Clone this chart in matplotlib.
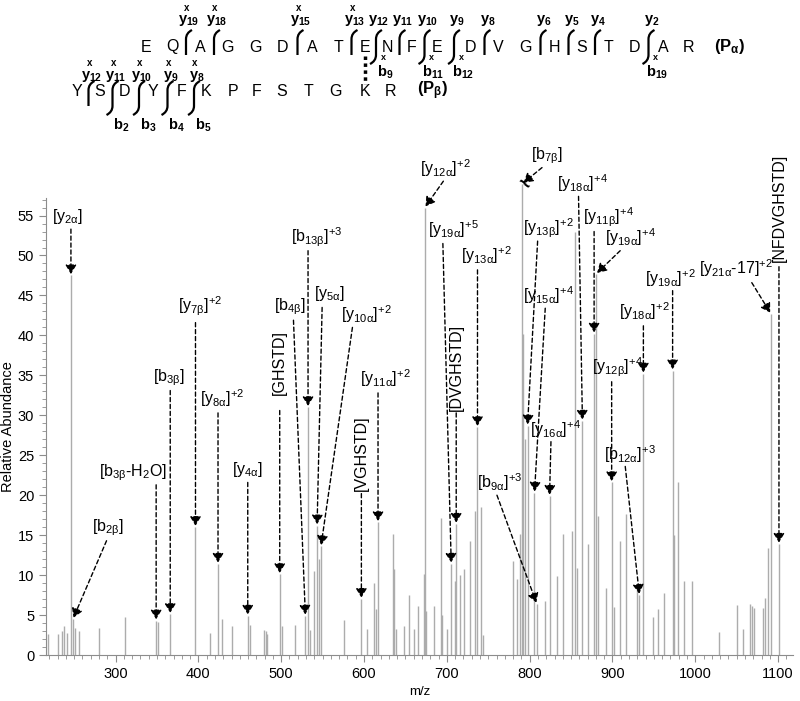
import numpy as np
import matplotlib
matplotlib.use("Agg")
import matplotlib.pyplot as plt
from matplotlib.path import Path
from matplotlib.patches import PathPatch
from matplotlib.ticker import MultipleLocator

plt.rcParams['font.family'] = ['Liberation Sans', 'DejaVu Sans']
plt.rcParams['mathtext.fontset'] = 'custom'
plt.rcParams['mathtext.rm'] = 'Liberation Sans'
plt.rcParams['mathtext.it'] = 'Liberation Sans:italic'
plt.rcParams['mathtext.bf'] = 'Liberation Sans:bold'
plt.rcParams['mathtext.default'] = 'regular'

# spectrum peaks (m/z, relative abundance)
mz = [218, 231, 235, 237.6, 241.7, 246.1, 248.5, 251.5, 255.8, 280, 311, 349, 351.5,
      366, 396.5, 414, 423.7, 428.7, 440.8, 459.6, 462.8, 479.7, 481.8, 483, 498.2,
      501.4, 517, 529.2, 532.4, 535, 539.2, 543.3, 545.2, 548, 575.4, 596.8, 603.6,
      611.6, 614.8, 616.9, 635, 636.5, 639, 647.8, 654.6, 659.8, 664.6, 671.9, 673.3,
      675, 684.8, 692.9, 694, 700, 705.3, 709.3, 711.3, 715.3, 721, 728.2, 734.3, 737,
      741.5, 744, 779.7, 785, 788.5, 791.3, 792.5, 794.6, 797.4, 805.8, 808.6, 818,
      824, 832.7, 840.7, 850.8, 854.9, 857, 863.7, 870.8, 877.8, 880.2, 883, 892, 899,
      902, 909.2, 916.4, 929.3, 932.5, 937.3, 949, 955, 962, 972.6, 974, 979.5, 986.4,
      995.6, 1028.6, 1050, 1057, 1066, 1068, 1070.8, 1082, 1084, 1087.2, 1091.3, 1101]
abund = [2.6, 2.6, 3.0, 3.6, 2.7, 47.5, 4.5, 3.4, 3.0, 3.4, 4.8, 4.3, 4.1,
         5.1, 16.0, 2.7, 11.4, 4.5, 3.6, 4.9, 3.7, 3.1, 3.0, 2.6, 10.1,
         3.6, 3.7, 4.9, 31.0, 3.1, 10.5, 16.2, 12.0, 13.6, 4.4, 7.0, 3.3,
         9.0, 5.8, 16.6, 15.2, 10.8, 3.2, 3.6, 7.5, 3.3, 6.1, 10.2, 56.0,
         5.5, 6.1, 17.2, 5.0, 3.2, 11.4, 9.3, 16.4, 10.0, 10.8, 14.3, 18.0, 28.5,
         18.5, 2.5, 11.8, 9.5, 15.1, 59.0, 40.2, 27.0, 28.7, 20.3, 6.4, 6.7,
         19.9, 9.9, 15.1, 15.5, 52.9, 10.9, 29.3, 13.9, 40.2, 47.7, 17.4, 8.4, 21.6,
         6.0, 14.3, 17.6, 8.9, 7.5, 35.2, 4.8, 5.7, 7.7, 35.6, 15.0, 21.6, 9.3,
         9.3, 2.9, 6.3, 3.2, 6.4, 6.1, 5.9, 5.9, 7.1, 13.4, 42.7, 13.9]

# annotations: label, text pos (m/z, abund), arrow start (m/z, abund), target peak m/z, rotation
ann = [
    (r'[y$_{2\alpha}$]', (242.1, 54.9), (246.1, 53.3), 246.1, 0),
    (r'[b$_{2\beta}$]', (290.3, 15.9), (289.1, 14.3), 248.5, 0),
    (r'[b$_{3\beta}$-H$_2$O]', (321.7, 22.8), (349.0, 21.3), 349.0, 0),
    (r'[b$_{3\beta}$]', (364.0, 34.7), (366.0, 33.1), 366.0, 0),
    (r'[y$_{7\beta}$]$^{+2}$', (402.6, 43.6), (396.5, 41.6), 396.5, 0),
    (r'[y$_{8\alpha}$]$^{+2}$', (429.1, 32.1), (423.7, 30.3), 423.7, 0),
    (r'[y$_{4\alpha}$]', (459.9, 23.2), (459.6, 21.6), 459.6, 0),
    ('[GHSTD]', (498.2, 36.6), (498.2, 30.6), 498.2, 90),
    (r'[b$_{4\beta}$]', (511.2, 43.6), (514.8, 41.9), 529.2, 0),
    (r'[b$_{13\beta}$]$^{+3}$', (542.5, 52.3), (532.4, 50.6), 532.4, 0),
    (r'[y$_{5\alpha}$]', (558.2, 45.2), (549.4, 43.5), 543.3, 0),
    (r'[y$_{10\alpha}$]$^{+2}$', (602.9, 42.7), (586.0, 41.0), 548.0, 0),
    (r'[y$_{11\alpha}$]$^{+2}$', (625.8, 34.7), (616.9, 32.8), 616.9, 0),
    ('[VGHSTD]', (596.8, 25.3), (596.8, 20.2), 596.8, 90),
    (r'[y$_{12\alpha}$]$^{+2}$', (698.2, 60.9), (695.8, 59.3), 673.3, 0),
    (r'[y$_{19\alpha}$]$^{+5}$', (707.8, 53.3), (695.2, 51.5), 705.3, 0),
    ('[DVGHSTD]', (711.3, 36.0), (711.3, 30.3), 711.3, 90),
    (r'[y$_{13\alpha}$]$^{+2}$', (747.6, 50.0), (737.0, 48.2), 737.0, 0),
    (r'[b$_{7\beta}$]', (821.3, 62.5), (814.9, 61.0), 791.3, 0),
    (r'[y$_{13\beta}$]$^{+2}$', (822.5, 53.4), (809.6, 51.8), 797.4, 0),
    (r'[y$_{15\alpha}$]$^{+4}$', (822.5, 45.0), (818.8, 43.4), 805.8, 0),
    (r'[y$_{16\alpha}$]$^{+4}$', (830.9, 28.3), (825.7, 26.7), 824.0, 0),
    (r'[b$_{9\alpha}$]$^{+3}$', (763.3, 21.6), (760.5, 20.0), 808.6, 0),
    (r'[y$_{18\alpha}$]$^{+4}$', (863.5, 59.1), (859.0, 57.4), 863.7, 0),
    (r'[y$_{11\beta}$]$^{+4}$', (894.9, 54.8), (877.8, 53.0), 877.8, 0),
    (r'[y$_{19\alpha}$]$^{+4}$', (921.4, 52.3), (909.3, 50.6), 880.2, 0),
    (r'[y$_{12\beta}$]$^{+4}$', (905.7, 36.0), (899.0, 34.2), 899.0, 0),
    (r'[y$_{18\alpha}$]$^{+2}$', (938.3, 43.0), (937.3, 41.2), 937.3, 0),
    (r'[y$_{19\alpha}$]$^{+2}$', (969.7, 47.2), (972.6, 45.6), 972.6, 0),
    (r'[y$_{21\alpha}$-17]$^{+2}$', (1049.0, 48.4), (1068.2, 46.6), 1091.3, 0),
    ('[NFDVGHSTD]', (1101.0, 56.0), (1101.0, 48.6), 1101.0, 90),
    (r'[b$_{12\alpha}$]$^{+3}$', (921.4, 25.2), (915.4, 23.6), 932.5, 0),
]

# peptide sequences
seq_a = "EQAGGDATENFEDVGHSTDAR"
seq_b = "YSDYFKPFSTGKR"
x_a = [146, 172, 200, 228, 256, 283, 312, 338, 365, 387, 412, 437, 471, 498, 526,
       555, 582, 608, 634, 663, 688]
x_b = [77, 100, 125, 153, 182, 206, 233, 257, 282, 308, 335, 365, 390]
y_ions_a = [19, 18, 15, 13, 12, 11, 10, 9, 8, 6, 5, 4, 2]
y_cross_a = [19, 18, 15, 13]
b_ions_a = [9, 11, 12, 19]
y_ions_b = [12, 11, 10, 9, 8]
b_ions_b = [2, 3, 4, 5]

fig = plt.figure(figsize=(8, 7.01), dpi=100)
ax = fig.add_axes([0.0575, 0.0656, 0.9338, 0.652])
ax.set_facecolor('none')

lines = ax.vlines(mz, 0, abund, colors='#acacac', lw=1.0)
lines.set_clip_on(False)

peak_of = dict(zip(mz, abund))
arrow_kw = dict(arrowstyle='-|>,head_length=0.55,head_width=0.33', color='black', lw=1.0,
                linestyle=(0, (3, 2)), shrinkA=0, shrinkB=1, mutation_scale=10)
for lab, tpos, spos, pk, rot in ann:
    ax.text(tpos[0], tpos[1], lab, fontsize=11.5, ha='center', va='center', rotation=rot)
    ax.annotate('', xy=(pk, peak_of[pk]), xytext=spos, arrowprops=arrow_kw,
                annotation_clip=False)
ax.text(791.3, 58.8, '~', fontsize=16, fontweight='bold', ha='center', va='center',
        rotation=-35)

ax.set_xlim(216, 1118)
ax.set_ylim(0, 57.2)
ax.set_xticks(range(300, 1101, 100))
ax.set_yticks(range(0, 56, 5))
ax.xaxis.set_minor_locator(MultipleLocator(10))
ax.yaxis.set_minor_locator(MultipleLocator(1))
for s in ['top', 'right']:
    ax.spines[s].set_visible(False)
for s in ['left', 'bottom']:
    ax.spines[s].set_color('#8c8c8c')
ax.tick_params(which='major', length=5, color='#8c8c8c', labelsize=10.5)
ax.tick_params(which='minor', length=3, color='#8c8c8c')
ax.set_xlabel('m/z', fontsize=9.5, labelpad=4)
ax.set_ylabel('Relative Abundance', fontsize=10.5, labelpad=2)

# sequence header drawn in pixel space
hdr = fig.add_axes([0, 0, 1, 1], zorder=-1)
hdr.set_xlim(0, 800)
hdr.set_ylim(701, 0)
hdr.axis('off')


def cleave(xb, ytop, ybot, top, bottom):
    verts, codes = [], []
    if top:
        verts += [(xb + 6, ytop - 9), (xb, ytop - 6), (xb, ytop)]
        codes += [Path.MOVETO, Path.CURVE3, Path.CURVE3]
    else:
        verts += [(xb, ytop)]
        codes += [Path.MOVETO]
    verts += [(xb, ybot)]
    codes += [Path.LINETO]
    if bottom:
        verts += [(xb, ybot + 6), (xb - 6, ybot + 9)]
        codes += [Path.CURVE3, Path.CURVE3]
    hdr.add_patch(PathPatch(Path(verts, codes), fill=False, lw=1.6, color='black'))


def draw_peptide(seq, xs, yrow, yions, ycross, bions, bcross, ytop, ybot, ylab_y, blab_y, name, namex):
    n = len(seq)
    for c, x in zip(seq, xs):
        hdr.text(x, yrow, c, fontsize=11.5, ha='center', va='center')
    hdr.text(namex, yrow, name, fontsize=12, ha='center', va='center', fontweight='bold')
    cuts = set(n - k for k in yions) | set(bions)
    for k in sorted(cuts):
        xb = (xs[k - 1] + xs[k]) / 2
        has_y = (n - k) in yions
        has_b = k in bions
        cleave(xb, ytop, ybot, has_y, has_b)
        if has_y:
            hdr.text(xb + 3, ylab_y, r'$\mathbf{y_{%d}}$' % (n - k), fontsize=10.5,
                     ha='center', va='center')
            if (n - k) in ycross:
                hdr.text(xb + 1, ylab_y - 13, 'x', fontsize=7, fontweight='bold',
                         ha='center', va='center')
        if has_b:
            hdr.text(xb + 9, blab_y, r'$\mathbf{b_{%d}}$' % k, fontsize=10.5,
                     ha='center', va='center')
            if bcross:
                hdr.text(xb + 7, blab_y - 14, 'x', fontsize=6.5, fontweight='bold',
                         ha='center', va='center')


draw_peptide(seq_a, x_a, 47, y_ions_a, y_cross_a, b_ions_a, True, 39, 55, 21, 72,
             r'$\mathbf{(P}_{\alpha}\mathbf{)}$', 730)
draw_peptide(seq_b, x_b, 91, y_ions_b, y_ions_b, b_ions_b, False, 90, 106, 76, 125,
             r'$\mathbf{(P}_{\beta}\mathbf{)}$', 433)
hdr.plot([365, 365], [56, 84], color='black', lw=2.5, linestyle=(0, (1, 1)))

fig.savefig('out.png', dpi=100)
